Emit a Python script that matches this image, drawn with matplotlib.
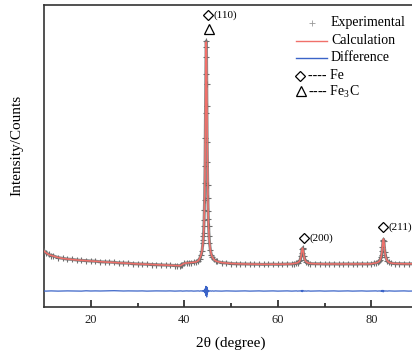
import matplotlib
matplotlib.use("Agg")
import matplotlib.pyplot as plt
from matplotlib.lines import Line2D

plt.rcParams['font.family'] = ['Liberation Serif', 'DejaVu Serif']
plt.rcParams['mathtext.fontset'] = 'custom'
plt.rcParams['mathtext.rm'] = 'Liberation Serif'

# ---------------- data ----------------
two_theta = [
    10.0, 10.5, 11.0, 11.5, 12.0, 13.0, 14.0, 15.0, 16.0, 17.0,
    18.0, 19.0, 20.0, 21.0, 22.0, 23.0, 24.0, 25.0, 26.0, 27.0,
    28.0, 29.0, 30.0, 31.0, 32.0, 33.0, 34.0, 35.0, 36.0, 37.0,
    38.0, 38.5, 39.0, 39.3, 39.6, 40.0, 40.5, 41.0, 41.5, 42.0,
    42.5, 43.0, 43.3, 43.6, 43.8, 44.0, 44.05, 44.1, 44.15, 44.2,
    44.25, 44.3, 44.35, 44.4, 44.45, 44.5, 44.55, 44.6, 44.65, 44.7,
    44.75, 44.8, 44.85, 44.9, 44.95, 45.0, 45.05, 45.1, 45.15, 45.2,
    45.3, 45.4, 45.6, 45.8, 46.0, 46.3, 46.7, 47.0, 48.0, 49.0,
    50.0, 51.0, 52.0, 53.0, 54.0, 55.0, 56.0, 57.0, 58.0, 59.0,
    60.0, 61.0, 62.0, 63.0, 63.5, 64.0, 64.3, 64.6, 64.8, 65.0,
    65.1, 65.2, 65.3, 65.4, 65.6, 65.8, 66.1, 66.5, 67.0, 68.0,
    69.0, 70.0, 71.0, 72.0, 73.0, 74.0, 75.0, 76.0, 77.0, 78.0,
    79.0, 80.0, 80.5, 81.0, 81.4, 81.7, 81.9, 82.1, 82.2, 82.3,
    82.4, 82.5, 82.6, 82.7, 82.9, 83.1, 83.4, 83.8, 84.3, 85.0,
    86.0, 87.0, 88.0, 89.0, 90.0,
]

i_calc = [
    1550, 1450, 1375, 1330, 1300, 1225, 1175, 1150, 1125, 1100,
    1085, 1065, 1050, 1035, 1015, 1000, 990, 975, 960, 950,
    935, 920, 905, 895, 885, 875, 865, 855, 845, 835,
    825, 820, 815, 830, 880, 930, 950, 960, 970, 985,
    1000, 1060, 1180, 1350, 1550, 1940, 2090, 2270, 2490, 2770,
    3120, 3570, 4150, 4900, 5870, 7100, 8590, 10170, 11480, 12000,
    11510, 10200, 8620, 7130, 5900, 4930, 4180, 3600, 3150, 2800,
    2300, 1970, 1580, 1370, 1250, 1140, 1060, 1030, 970, 945,
    925, 915, 905, 900, 895, 890, 885, 885, 885, 885,
    885, 890, 895, 905, 925, 945, 970, 1025, 1110, 1300,
    1455, 1620, 1700, 1620, 1300, 1110, 1000, 950, 925, 910,
    905, 900, 900, 900, 900, 900, 900, 900, 900, 900,
    905, 910, 935, 950, 985, 1035, 1105, 1240, 1360, 1535,
    1775, 2035, 2150, 2035, 1535, 1240, 1065, 985, 945, 925,
    915, 910, 910, 910, 910,
]

i_obs = [
    1560, 1440, 1380, 1325, 1305, 1220, 1180, 1145, 1130, 1100,
    1080, 1070, 1050, 1040, 1010, 1005, 995, 980, 955, 950,
    940, 915, 905, 900, 880, 875, 870, 850, 845, 840,
    820, 820, 815, 835, 875, 930, 955, 960, 975, 980,
    1000, 1065, 1175, 1360, 1545, 1950, 2080, 2290, 2470, 2800,
    3090, 3610, 4100, 4960, 5800, 7220, 8450, 10400, 11250, 12050,
    11730, 9900, 8800, 6980, 5990, 4870, 4220, 3570, 3170, 2790,
    2310, 1965, 1585, 1365, 1255, 1135, 1065, 1030, 965, 950,
    925, 910, 905, 905, 890, 890, 890, 880, 885, 890,
    880, 890, 900, 900, 925, 950, 965, 1030, 1105, 1320,
    1430, 1640, 1680, 1640, 1290, 1115, 995, 955, 920, 910,
    910, 895, 900, 905, 895, 900, 905, 895, 900, 905,
    900, 910, 935, 955, 980, 1040, 1100, 1250, 1340, 1560,
    1750, 2060, 2120, 2050, 1525, 1245, 1060, 990, 945, 920,
    915, 910, 905, 915, 910,
]

i_diff = [
    -450, -455, -450, -445, -450, -455, -450, -445, -450, -450,
    -455, -440, -450, -445, -450, -445, -440, -435, -445, -450,
    -445, -450, -450, -445, -455, -450, -445, -450, -450, -445,
    -455, -450, -450, -445, -455, -450, -445, -450, -445, -455,
    -450, -445, -455, -440, -455, -440, -460, -430, -470, -420,
    -480, -410, -500, -390, -520, -330, -590, -220, -680, -400,
    -230, -750, -270, -600, -360, -510, -410, -480, -430, -460,
    -440, -455, -445, -455, -445, -455, -445, -450, -455, -445,
    -450, -455, -450, -445, -455, -450, -445, -455, -450, -445,
    -455, -450, -445, -455, -450, -445, -455, -445, -455, -430,
    -475, -420, -480, -425, -460, -445, -455, -445, -455, -450,
    -445, -455, -450, -445, -455, -450, -445, -455, -450, -445,
    -455, -450, -450, -445, -455, -445, -455, -440, -470, -420,
    -480, -420, -490, -430, -460, -445, -455, -445, -450, -455,
    -450, -445, -455, -450, -450,
]

x_ticks = [20, 40, 60, 80]
x_minor = [30, 50, 70]

peak_labels = ['(110)', '(200)', '(211)']
fe_marker_x = [45.1, 65.7, 82.6]
fe_marker_y = [13350, 2200, 2750]
fe3c_marker_x = [45.3]
fe3c_marker_y = [12650]

assert len(two_theta) == len(i_calc) == len(i_obs) == len(i_diff)

# ---------------- figure ----------------
W, H = 412, 354
fig = plt.figure(figsize=(W / 100, H / 100), dpi=100)
ax = fig.add_axes([44 / W, 47 / H, 374 / W, 302 / H])
ax.set_xlim(10, 90)
ax.set_ylim(-1250, 13850)

ax.plot(two_theta, i_obs, color='#8a8a8a', lw=2.2, solid_capstyle='round', zorder=2)
ax.plot(two_theta, i_obs, ls='none', marker='+', ms=4.5, mew=0.8, color='#6e6e6e', zorder=3)
ax.plot(two_theta, i_calc, color='#f0706a', lw=1.1, zorder=4)
ax.plot(two_theta, i_diff, color='#3b64c8', lw=0.9, zorder=4)

# phase markers and labels
ax.plot(fe_marker_x, fe_marker_y, ls='none', marker='D', ms=4.8, mfc='none',
        mec='black', mew=0.9, zorder=5, clip_on=False)
ax.plot(fe3c_marker_x, fe3c_marker_y, ls='none', marker='^', ms=6.8, mfc='none',
        mec='black', mew=0.9, zorder=5, clip_on=False)
for lab, xx, yy in zip(peak_labels, fe_marker_x, fe_marker_y):
    ax.text(xx + 1.1, yy, lab, fontsize=8, ha='left', va='center', zorder=6)

# axes styling
ax.spines['right'].set_visible(False)
for s in ['top', 'bottom', 'left']:
    ax.spines[s].set_color('#333333')
    ax.spines[s].set_linewidth(1.2)
ax.set_xticks(x_ticks)
ax.set_xticks(x_minor, minor=True)
ax.set_xticklabels([str(t) for t in x_ticks])
ax.tick_params(axis='x', which='major', direction='in', length=5, width=1.2,
               labelsize=9, pad=5, colors='#222222', top=False)
ax.tick_params(axis='x', which='minor', direction='in', length=3, width=1.2,
               colors='#222222', top=False)
ax.tick_params(axis='y', which='both', left=False, labelleft=False)

# axis titles
fig.text(231 / W, 1 - 343 / H, '2θ (degree)', fontsize=11, ha='center', va='center')
fig.text(17 / W, 1 - 145 / H, 'Intensity/Counts', fontsize=11, rotation=90,
         ha='center', va='center')

# legend (manual)
def fx(px):
    return px / W

def fy(py):
    return 1 - py / H

tf = fig.transFigure
fig.add_artist(Line2D([fx(311.5)], [fy(23)], ls='none', marker='+', ms=4, mew=0.6,
                      color='#999999', transform=tf))
fig.add_artist(Line2D([fx(296), fx(327)], [fy(40.5), fy(40.5)], color='#f0706a',
                      lw=1.0, transform=tf))
fig.add_artist(Line2D([fx(296), fx(327)], [fy(57.5), fy(57.5)], color='#3b64c8',
                      lw=1.0, transform=tf))
fig.add_artist(Line2D([fx(300)], [fy(76)], ls='none', marker='D', ms=4.8, mfc='none',
                      mec='black', mew=0.9, transform=tf))
fig.add_artist(Line2D([fx(301)], [fy(90.5)], ls='none', marker='^', ms=6.8, mfc='none',
                      mec='black', mew=0.9, transform=tf))
fig.text(fx(331), fy(22.5), 'Experimental', fontsize=10, ha='left', va='center')
fig.text(fx(331), fy(40.5), 'Calculation', fontsize=10, ha='left', va='center')
fig.text(fx(331), fy(57.5), 'Difference', fontsize=10, ha='left', va='center')
fig.text(fx(308), fy(75.5), '---- Fe', fontsize=10, ha='left', va='center')
fig.text(fx(308), fy(91.5), r'---- Fe$_\mathrm{3}$C', fontsize=10, ha='left', va='center')

fig.savefig('out.png', dpi=100)
